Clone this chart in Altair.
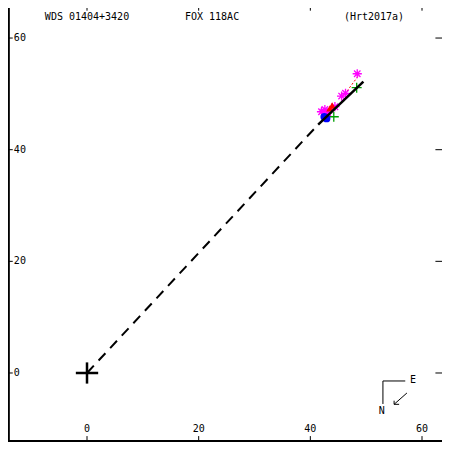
import altair as alt
import pandas as pd

# ---- data (arcsec, x = east offset, y = north offset as plotted) ----
mag_x = [48.4, 46.3, 45.6, 44.4, 42.0, 42.6, 43.1]
mag_y = [53.6, 50.1, 49.6, 47.7, 46.8, 47.2, 46.6]
grn_x = [48.3, 44.2]
grn_y = [51.1, 45.9]
red_x = [43.5, 43.9]
red_y = [47.4, 47.9]
blu_x = [42.9, 42.5]
blu_y = [45.6, 45.9]
orbit_x = [41.4, 49.5]
orbit_y = [44.5, 52.2]
node_x = [0.0, 41.4]
node_y = [0.0, 44.5]
resid_x = [48.5, 45.9]
resid_y = [53.1, 49.6]

tick_vals = [0, 20, 40, 60]
left_labels = ["0", "20", "40", "60"]
bottom_labels = ["0", "20", "40", "60"]
header_text = ["WDS 01404+3420", "FOX 118AC", "(Hrt2017a)"]
header_x = [0.0, 22.4, 51.4]

XDOM = [-14.15, 63.58]
YDOM = [-12.36, 65.38]
FONT = "DejaVu Sans Mono"

xs = alt.Scale(domain=XDOM, nice=False, zero=False)
ys = alt.Scale(domain=YDOM, nice=False, zero=False)

def segs(rows):
    return pd.DataFrame(rows, columns=["x", "y", "x2", "y2"])

def rule_layer(df, width=1.0, color="black", dash=None):
    kw = dict(color=color, strokeWidth=width)
    if dash:
        kw["strokeDash"] = dash
    return alt.Chart(df).mark_rule(**kw).encode(
        x=alt.X("x:Q", scale=xs, axis=None),
        y=alt.Y("y:Q", scale=ys, axis=None),
        x2="x2:Q", y2="y2:Q")

# frame
frame = segs([
    [-14.0, -12.18, -14.0, 65.38],
    [-14.15, -12.18, 63.58, -12.18],
])
# ticks
tick_rows = []
for v in tick_vals:
    tick_rows.append([-14.0, v, -13.3, v])        # left
    tick_rows.append([62.4, v, 63.58, v])         # right
    tick_rows.append([v, 65.38, v, 64.9])         # top
    tick_rows.append([v, -11.3, v, -12.18])       # bottom
ticks = segs(tick_rows)

origin = segs([[-2.0, 0.0, 2.0, 0.0], [0.0, -1.9, 0.0, 1.9]])
orbit = segs([[orbit_x[0], orbit_y[0], orbit_x[1], orbit_y[1]]])
node = segs([[node_x[0], node_y[0], node_x[1], node_y[1]]])
resid = segs([[resid_x[0], resid_y[0], resid_x[1], resid_y[1]]])
compass = segs([
    [53.0, -1.43, 57.0, -1.43],
    [53.0, -1.43, 53.0, -5.55],
    [57.3, -3.58, 55.0, -5.61],
    [55.0, -5.61, 55.9, -5.61],
    [55.0, -5.61, 55.0, -4.96],
])

def pts(xv, yv):
    return pd.DataFrame({"x": xv, "y": yv})

enc = dict(x=alt.X("x:Q", scale=xs, axis=None), y=alt.Y("y:Q", scale=ys, axis=None))

ASTER = "M-1,0L1,0M0,-1L0,1M-0.7,-0.7L0.7,0.7M-0.7,0.7L0.7,-0.7"
PLUS = "M-1,0L1,0M0,-1L0,1"

mag = alt.Chart(pts(mag_x, mag_y)).mark_point(shape=ASTER, filled=False, size=85,
                                              strokeWidth=1.3, color="#ff00ff", opacity=1).encode(**enc)
grn = alt.Chart(pts(grn_x, grn_y)).mark_point(shape=PLUS, filled=False, size=100,
                                              strokeWidth=1.3, color="#00a000", opacity=1).encode(**enc)
red = alt.Chart(pts(red_x, red_y)).mark_point(shape="triangle-up", filled=True, size=55,
                                              color="#ff0000", opacity=1).encode(**enc)
blu = alt.Chart(pts(blu_x, blu_y)).mark_point(shape="circle", filled=True, size=60,
                                              color="#0000ff", opacity=1).encode(**enc)

def text_layer(df, align="center", baseline="middle"):
    return alt.Chart(df).mark_text(font=FONT, fontSize=10, color="black",
                                   align=align, baseline=baseline).encode(
        x=alt.X("x:Q", scale=xs, axis=None),
        y=alt.Y("y:Q", scale=ys, axis=None),
        text="t:N")

hdr = text_layer(pd.DataFrame({"x": header_x, "y": [63.8] * 3, "t": header_text}))
lft = text_layer(pd.DataFrame({"x": [-13.1] * 4, "y": tick_vals, "t": left_labels}), align="left")
bot = text_layer(pd.DataFrame({"x": tick_vals, "y": [-10.0] * 4, "t": bottom_labels}))
cmp_txt = text_layer(pd.DataFrame({"x": [58.4, 52.8], "y": [-1.3, -6.8], "t": ["E", "N"]}))

chart = alt.layer(
    rule_layer(frame, 2.0),
    rule_layer(ticks, 1.0),
    rule_layer(node, 2.0, dash=[10, 7]),
    rule_layer(origin, 2.5),
    rule_layer(compass, 1.0),
    rule_layer(resid, 1.0, color="#ff0000", dash=[2, 2]),
    mag, grn, red, blu,
    rule_layer(orbit, 2.5),
    hdr, lft, bot, cmp_txt,
).properties(
    width=434, height=434,
    autosize=alt.AutoSizeParams(type="none"),
    padding=0,
    background="white",
).configure_view(stroke=None)

chart.save("out.html", embed_options={"renderer": "svg", "actions": False})
